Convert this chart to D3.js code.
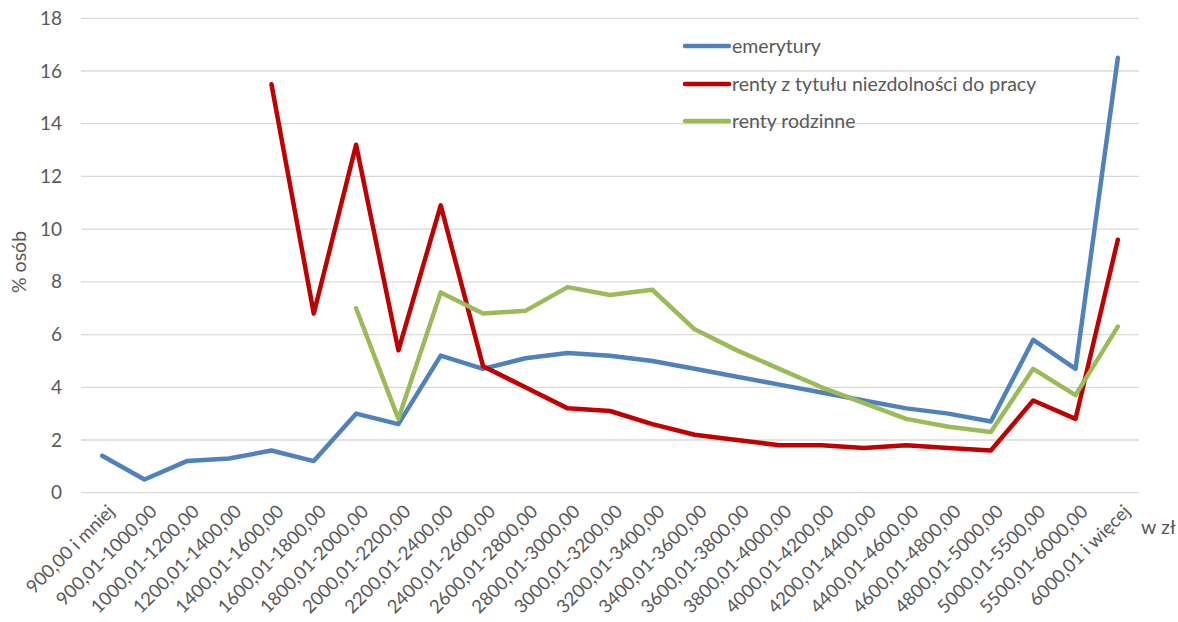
<!DOCTYPE html>
<html>
<head>
<meta charset="utf-8">
<script src="https://cdn.jsdelivr.net/npm/d3@7"></script>
<style>
  html, body { margin: 0; padding: 0; background: #fff; }
  svg { display: block; font-family: Lato, "Open Sans", sans-serif; }
</style>
</head>
<body>
<div id="chart"></div>
<script>
const categories = [
  "900,00 i mniej", "900,01-1000,00", "1000,01-1200,00", "1200,01-1400,00",
  "1400,01-1600,00", "1600,01-1800,00", "1800,01-2000,00", "2000,01-2200,00",
  "2200,01-2400,00", "2400,01-2600,00", "2600,01-2800,00", "2800,01-3000,00",
  "3000,01-3200,00", "3200,01-3400,00", "3400,01-3600,00", "3600,01-3800,00",
  "3800,01-4000,00", "4000,01-4200,00", "4200,01-4400,00", "4400,01-4600,00",
  "4600,01-4800,00", "4800,01-5000,00", "5000,01-5500,00", "5500,01-6000,00",
  "6000,01 i więcej"
];
const emerytury = [1.4, 0.5, 1.2, 1.3, 1.6, 1.2, 3.0, 2.6, 5.2, 4.7, 5.1, 5.3, 5.2, 5.0, 4.7, 4.4, 4.1, 3.8, 3.5, 3.2, 3.0, 2.7, 5.8, 4.7, 16.5];
const rentyNiezdolnosc = [null, null, null, null, 15.5, 6.8, 13.2, 5.4, 10.9, 4.8, 4.0, 3.2, 3.1, 2.6, 2.2, 2.0, 1.8, 1.8, 1.7, 1.8, 1.7, 1.6, 3.5, 2.8, 9.6];
const rentyRodzinne = [null, null, null, null, null, null, 7.0, 2.8, 7.6, 6.8, 6.9, 7.8, 7.5, 7.7, 6.2, 5.4, 4.7, 4.0, 3.4, 2.8, 2.5, 2.3, 4.7, 3.7, 6.3];
const seriesNames = ["emerytury", "renty z tytułu niezdolności do pracy", "renty rodzinne"];
const seriesColors = ["#4F81BD", "#C00000", "#9BBB59"];
const yTicks = [0, 2, 4, 6, 8, 10, 12, 14, 16, 18];
const yTitle = "% osób";
const xTitle = "w zł";

const W = 1178, H = 622;
const plot = { left: 81, right: 1139, top: 18.3, bottom: 492.7 };
const FONT = "Lato, 'Open Sans', sans-serif";

const svg = d3.select("#chart").append("svg").attr("width", W).attr("height", H);

const x = d3.scalePoint().domain(categories).range([plot.left, plot.right]).padding(0.5);
const y = d3.scaleLinear().domain([0, 18]).range([plot.bottom, plot.top]);

// gridlines
svg.append("g").selectAll("line").data(yTicks).join("line")
  .attr("x1", plot.left).attr("x2", plot.right)
  .attr("y1", d => y(d)).attr("y2", d => y(d))
  .attr("stroke", "#d9d9d9").attr("stroke-width", 1.3);

// y axis labels
const yAxis = d3.axisLeft(y).tickValues(yTicks).tickSize(0).tickPadding(0);
const gy = svg.append("g").attr("transform", `translate(62,0)`).call(yAxis);
gy.select(".domain").remove();
gy.selectAll("text").attr("font-size", 19).attr("fill", "#595959").attr("font-family", FONT);

// x axis labels
const xAxis = d3.axisBottom(x).tickSize(0).tickPadding(0);
const gx = svg.append("g").attr("transform", `translate(0,${plot.bottom})`).call(xAxis);
gx.select(".domain").remove();
gx.selectAll("text")
  .attr("font-size", 18.5).attr("fill", "#595959")
  .attr("font-family", FONT)
  .attr("text-anchor", "end")
  .attr("dy", "0")
  .attr("transform", "translate(13,20) rotate(-45)");

// axis titles
svg.append("text").attr("transform", `translate(26,262) rotate(-90)`)
  .attr("text-anchor", "middle").attr("font-size", 19.5).attr("fill", "#595959")
  .attr("font-family", FONT).text(yTitle);
svg.append("text").attr("x", 1141).attr("y", 534)
  .attr("font-size", 19.5).attr("fill", "#595959").attr("font-family", FONT).text(xTitle);

// lines
const allSeries = [emerytury, rentyNiezdolnosc, rentyRodzinne];
const line = d3.line()
  .defined(d => d.v !== null)
  .x(d => x(d.c)).y(d => y(d.v));

allSeries.forEach((vals, i) => {
  const data = vals.map((v, j) => ({ c: categories[j], v }));
  svg.append("path").datum(data)
    .attr("d", line)
    .attr("fill", "none")
    .attr("stroke", seriesColors[i])
    .attr("stroke-width", 4.5)
    .attr("stroke-linejoin", "round")
    .attr("stroke-linecap", "round");
});

// legend
const legend = svg.append("g");
const legY = [46, 84, 121];
seriesNames.forEach((name, i) => {
  legend.append("line")
    .attr("x1", 685).attr("x2", 729)
    .attr("y1", legY[i]).attr("y2", legY[i])
    .attr("stroke", seriesColors[i]).attr("stroke-width", 4.5).attr("stroke-linecap", "round");
  legend.append("text").attr("x", 732).attr("y", legY[i]).attr("dy", "0.35em")
    .attr("font-size", 19.5).attr("fill", "#595959").attr("font-family", FONT).text(name);
});
</script>
</body>
</html>
